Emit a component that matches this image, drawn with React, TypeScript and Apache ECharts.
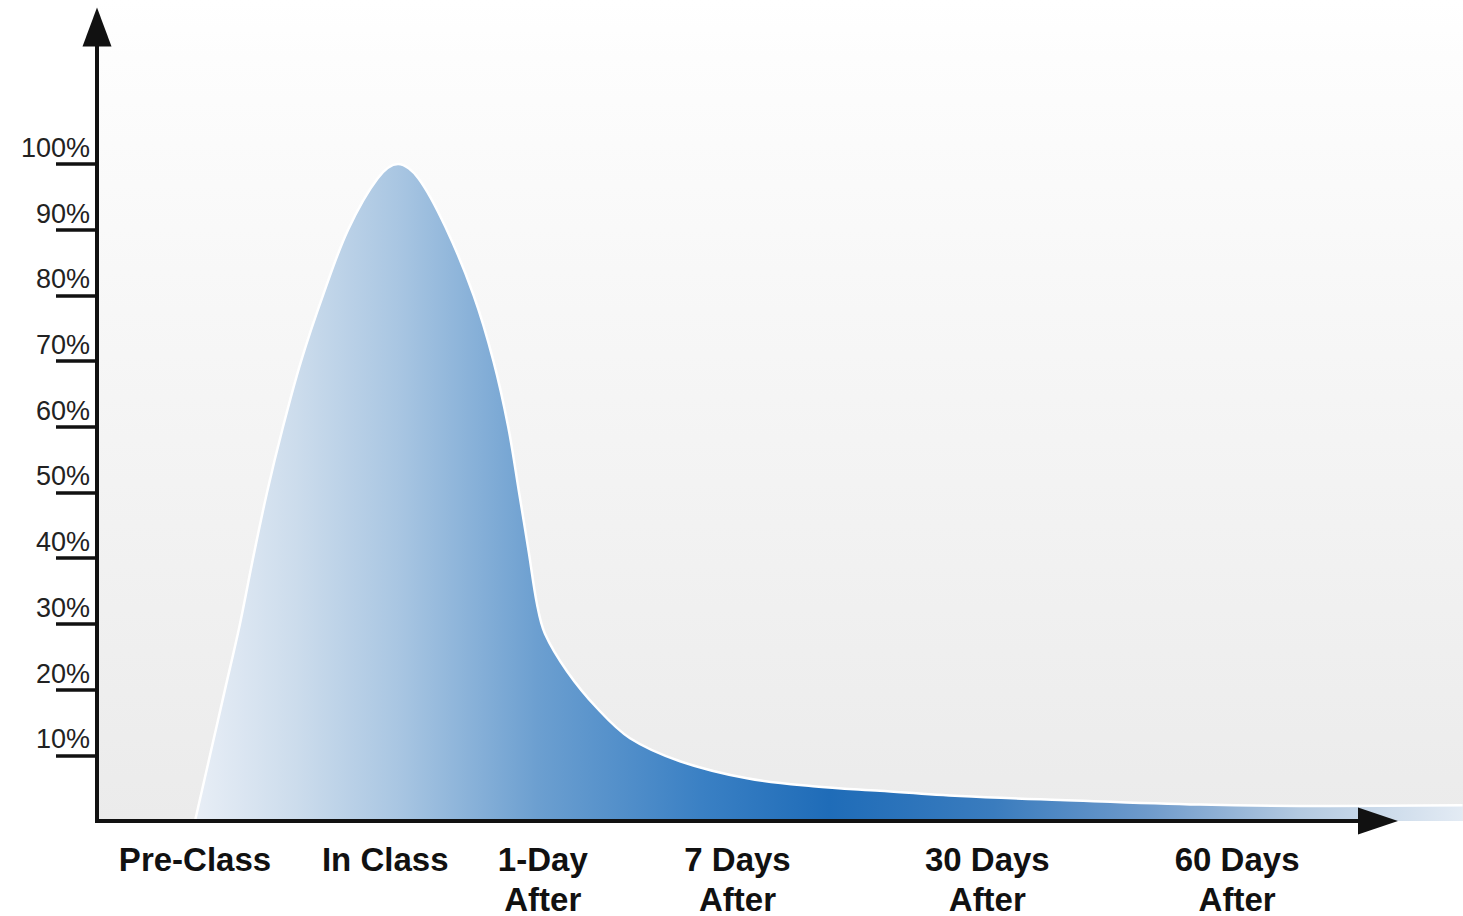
import React, { useEffect, useRef } from "react";
import * as echarts from "echarts";

// X labels (category names) and their positions along the time axis (0..100 = axis length)
const categories = ["Pre-Class", "In Class", "1-Day\nAfter", "7 Days\nAfter", "30 Days\nAfter", "60 Days\nAfter"];
const categoryPositions = [7.65, 22.5, 34.8, 50.0, 69.5, 89.0];

// Y tick values (%)
const yTickValues = [10, 20, 30, 40, 50, 60, 70, 80, 90, 100];

// Retention curve
const retentionX = [
  7.65, 8.82, 9.99, 11.16, 12.18, 13.27, 14.52, 15.93, 17.64, 19.6, 21.9, 23.5,
  25.1, 27.3, 29.4, 30.95, 32.1, 32.95, 33.7, 34.35, 34.97, 36.69, 39.03, 41.61,
  45.51, 50.74, 55.89, 61.12, 67.37, 75.18, 86.1, 96.25, 106.6,
];
const retentionY = [
  0, 10, 20, 30, 40, 50, 60, 70, 80, 90, 97.8, 100,
  97.8, 90, 80, 70, 60, 50, 41, 33, 28.5, 22.8, 17.2, 12.6,
  9.1, 6.5, 5.3, 4.6, 3.8, 3.2, 2.5, 2.3, 2.4,
];

export default function App() {
  const ref = useRef<HTMLDivElement>(null);
  useEffect(() => {
    if (!ref.current) return;
    const chart = echarts.init(ref.current, undefined, { renderer: "svg" });
    const data = retentionX.map((x, i) => [x, retentionY[i]]);
    const font = "Liberation Sans, Arial, sans-serif";
    chart.setOption({
      animation: false,
      backgroundColor: "#ffffff",
      grid: [
        { left: 97, right: 0, top: 27, bottom: 95, containLabel: false, outerBoundsMode: "none" },
        { left: 97, right: 85, top: 27, bottom: 95, containLabel: false, outerBoundsMode: "none" },
      ],
      graphic: [
        {
          type: "rect",
          z: -10,
          shape: { x: 97, y: 0, width: 1366, height: 821 },
          style: {
            fill: new echarts.graphic.LinearGradient(0, 0, 0, 1, [
              { offset: 0, color: "#ffffff" },
              { offset: 0.07, color: "#fdfdfd" },
              { offset: 1, color: "#ebebeb" },
            ]),
          },
        },
      ],
      xAxis: [
        {
          gridIndex: 0,
          type: "value",
          min: 0,
          max: 106.635,
          show: false,
        },
        {
          gridIndex: 1,
          type: "value",
          min: 0,
          max: 100,
          z: 10,
          position: "bottom",
          axisLine: {
            show: true,
            onZero: false,
            symbol: ["none", "triangle"],
            symbolSize: [27, 40],
            lineStyle: { color: "#111111", width: 4, cap: "square" },
          },
          axisTick: { show: false },
          splitLine: { show: false },
          axisLabel: {
            customValues: categoryPositions,
            formatter: (v: number) => {
              const i = categoryPositions.findIndex((p) => Math.abs(p - v) < 0.01);
              return i >= 0 ? categories[i] : "";
            },
            margin: 18,
            fontSize: 33,
            lineHeight: 40,
            fontWeight: "bold",
            color: "#111111",
            fontFamily: font,
            align: "center",
          },
        },
      ],
      yAxis: [
        {
          gridIndex: 0,
          type: "value",
          min: 0,
          max: 120.85,
          z: 10,
          axisLine: {
            show: true,
            onZero: false,
            symbol: ["none", "triangle"],
            symbolSize: [29, 39],
            lineStyle: { color: "#111111", width: 4, cap: "square" },
          },
          axisTick: {
            show: true,
            customValues: yTickValues,
            length: 41,
            lineStyle: { color: "#111111", width: 3.5 },
          },
          splitLine: { show: false },
          axisLabel: {
            customValues: yTickValues,
            formatter: "{value}%",
            margin: 7,
            fontSize: 27,
            lineHeight: 28,
            verticalAlign: "bottom",
            padding: [0, 0, 2, 0],
            color: "#222222",
            fontFamily: font,
          },
        },
        {
          gridIndex: 1,
          type: "value",
          min: 0,
          max: 120.85,
          show: false,
        },
      ],
      series: [
        {
          type: "line",
          xAxisIndex: 0,
          yAxisIndex: 0,
          data,
          showSymbol: false,
          smooth: 0.35,
          z: 2,
          lineStyle: { color: "#ffffff", width: 2.5 },
          areaStyle: {
            opacity: 1,
            color: {
              type: "linear",
              global: true,
              x: 195,
              y: 0,
              x2: 1463,
              y2: 0,
              colorStops: [
                { offset: 0, color: "#e8eef6" },
                { offset: 0.08, color: "#ccdcec" },
                { offset: 0.16, color: "#a9c6e2" },
                { offset: 0.27, color: "#6c9fd0" },
                { offset: 0.4, color: "#3a80c4" },
                { offset: 0.5, color: "#1f6cb8" },
                { offset: 0.63, color: "#3a7cbe" },
                { offset: 0.75, color: "#6e9acb" },
                { offset: 0.87, color: "#b3c9e0" },
                { offset: 1, color: "#e3ebf4" },
              ],
            },
          },
        },
      ],
    });
    return () => chart.dispose();
  }, []);
  return (
    <div
      ref={ref}
      style={{ position: "absolute", left: 0, top: 0, width: 1463, height: 916 }}
    />
  );
}
